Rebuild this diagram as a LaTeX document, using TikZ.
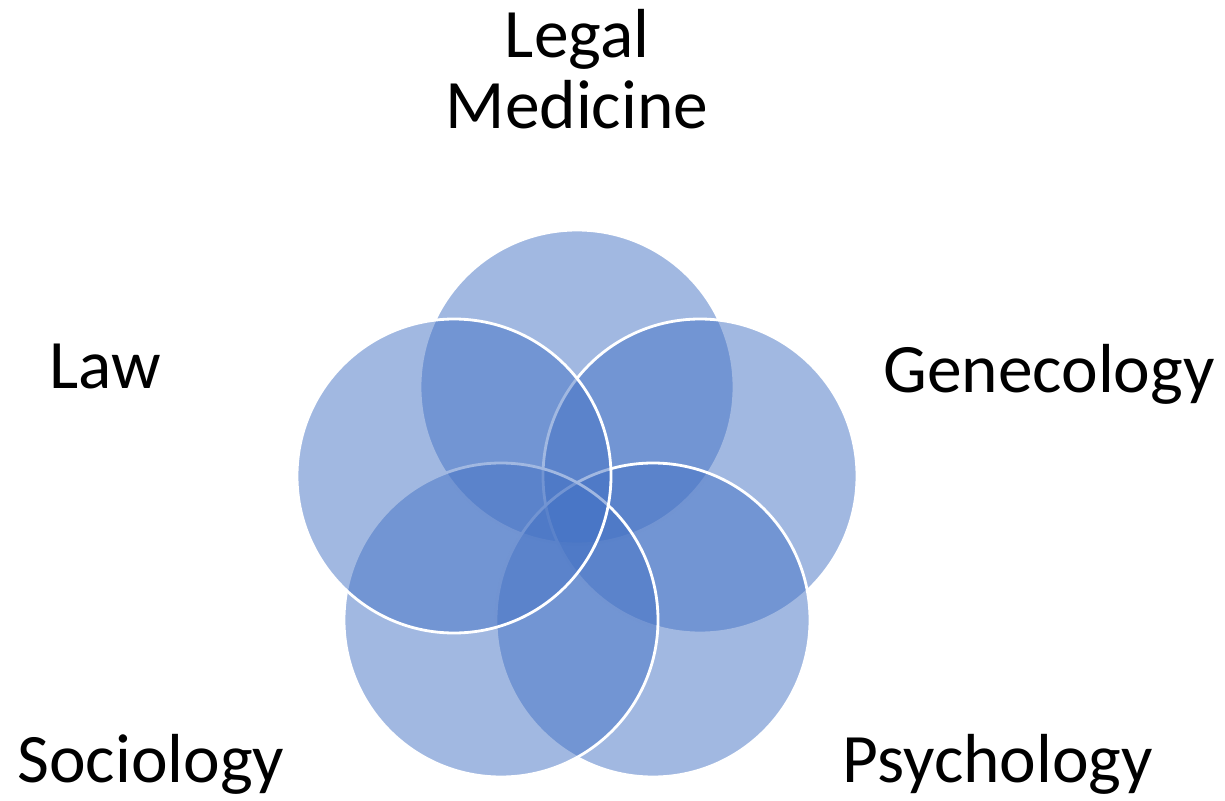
\documentclass[tikz,border=0pt]{standalone}
\usepackage{fontspec}
\setmainfont{Carlito}
\usepackage{xcolor}
\usepackage{tikz}

\definecolor{vennblue}{RGB}{68,114,196}

\begin{document}
\begin{tikzpicture}[x=0.02cm,y=-0.02cm,
  venn/.style={fill=vennblue,fill opacity=.5,draw=white,line width=1.6pt},
  field/.style={font=\fontsize{39.5}{40.3}\selectfont,inner sep=0pt,anchor=base}]
\useasboundingbox (0,0) rectangle (1225,801);
% five overlapping circles, drawn from the top clockwise, Law last
\filldraw[venn] (577,387) circle (157);
\filldraw[venn] (700,476) circle (157);
\filldraw[venn] (653,620) circle (157);
\filldraw[venn] (501,620) circle (157);
\filldraw[venn] (454,476) circle (157);
% labels
\node[field,align=center] (legal) at (577,128) {Legal\\Medicine};
\node[field] (law) at (105,388) {Law};
\node[field] (genecology) at (1049,392) {Genecology};
\node[field] (sociology) at (151,782) {Sociology};
\node[field] (psychology) at (998,782) {Psychology};
\end{tikzpicture}
\end{document}
